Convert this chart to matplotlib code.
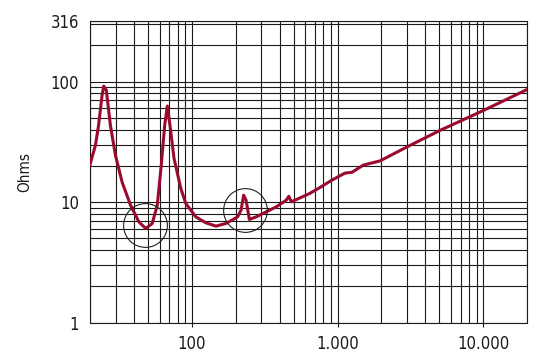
import matplotlib.pyplot as plt
from matplotlib import font_manager
from matplotlib.ticker import FixedLocator, FixedFormatter, LogLocator, NullFormatter

# a narrow face if one is installed, otherwise the default
names = {f.name for f in font_manager.fontManager.ttflist}
narrow = [n for n in ['Liberation Sans Narrow', 'DejaVu Sans Condensed'] if n in names]
plt.rcParams['font.family'] = narrow + ['DejaVu Sans']
plt.rcParams['font.stretch'] = 'condensed'

# impedance curve (Hz, Ohms)
freq = [20, 21.8, 22.9, 24.2, 24.85, 25.9, 27.6, 29.9, 33.2, 37.95, 43.3,
        48.2, 53.5, 57.9, 61.7, 65.1, 67.9, 70.8, 75.5, 84, 90.9, 106.6,
        124.9, 146.4, 171.6, 206.3, 217.7, 226.9, 235.7, 248.4, 276.3,
        323.7, 379.6, 444.9, 463.5, 481.7, 644, 755, 913, 1122, 1258, 1503,
        1958, 2994, 5080, 10090, 20000]
ohms = [20.5, 29.7, 43.4, 77, 91.9, 84.7, 43.4, 24.5, 14.7, 9.44, 6.87,
        6.05, 6.66, 9.44, 20.3, 43.4, 62.8, 43.4, 23, 13, 9.75, 7.55,
        6.74, 6.33, 6.66, 7.55, 8.59, 11.43, 10.39, 7.19, 7.55,
        8.31, 9.14, 10.39, 11.2, 10.06, 11.8, 13.2, 15.2, 17.4, 17.7, 20.3,
        22, 28.7, 39.5, 57.8, 86]

# highlighted spots (centre of each circle)
circle_f = [47.4, 230]
circle_z = [6.45, 8.59]

xticks = [100, 1000, 10000]
xlabels = ['100', '1.000', '10.000']
yticks = [1, 10, 100, 316]
ylabels = ['1', '10', '100', '316']

fig = plt.figure(figsize=(5.38, 3.57), dpi=100)
ax = fig.add_axes([0.1673, 0.0961, 0.8123, 0.8439])

ax.plot(freq, ohms, color='#9b0a2e', lw=2.2, solid_joinstyle='round', zorder=3)
ax.plot(circle_f, circle_z, ls='none', marker='o', ms=31.5, mfc='none',
        mec='#222222', mew=0.8, zorder=4)

ax.set_xscale('log')
ax.set_yscale('log')
ax.set_xlim(20, 20000)
ax.set_ylim(1, 316)

ax.xaxis.set_major_locator(FixedLocator(xticks))
ax.xaxis.set_major_formatter(FixedFormatter(xlabels))
ax.xaxis.set_minor_locator(LogLocator(base=10, subs=range(2, 10)))
ax.xaxis.set_minor_formatter(NullFormatter())
ax.yaxis.set_major_locator(FixedLocator(yticks))
ax.yaxis.set_major_formatter(FixedFormatter(ylabels))
ax.yaxis.set_minor_locator(LogLocator(base=10, subs=range(2, 10)))
ax.yaxis.set_minor_formatter(NullFormatter())

ax.grid(True, which='both', color='#1a1a1a', lw=0.8)
ax.set_axisbelow(True)
for s in ax.spines.values():
    s.set_color('#1a1a1a')
    s.set_linewidth(0.8)

ax.tick_params(axis='x', which='major', length=3, width=0.8, pad=6,
               labelsize=12, colors='#1a1a1a')
ax.tick_params(axis='x', which='minor', length=0)
ax.tick_params(axis='y', which='both', length=0, pad=8, labelsize=12,
               colors='#1a1a1a')

ax.set_ylabel('Ohms', fontsize=11, color='#1a1a1a', labelpad=13)

fig.savefig('out.png', dpi=100)
